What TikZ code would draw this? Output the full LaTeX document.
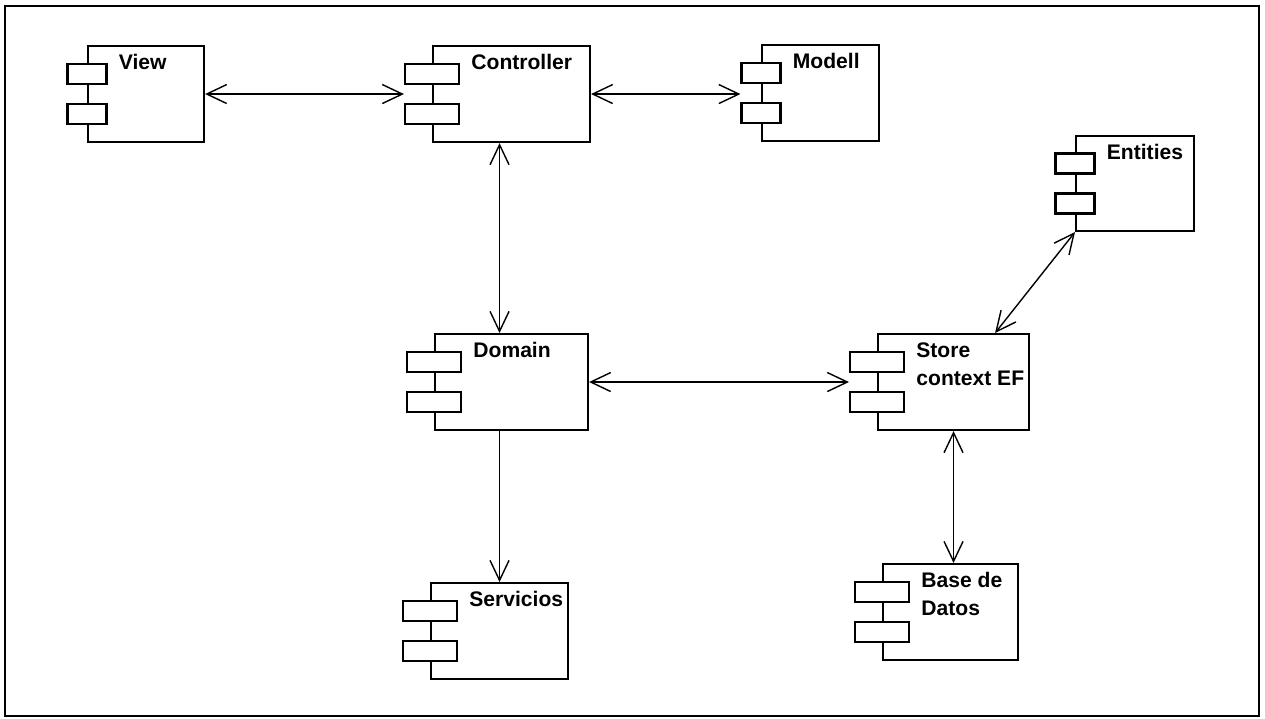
\documentclass[tikz,border=0pt]{standalone}
\usepackage{fontspec}
\setmainfont{Liberation Sans}
\usepackage{tikz}
\usetikzlibrary{arrows.meta, positioning}

\begin{document}
\begin{tikzpicture}[
  x=0.02cm, y=-0.02cm,
  >={Straight Barb[length=4mm,width=3.8mm]},
  comp/.style={draw, line width=1.2pt, anchor=north west, inner sep=0, minimum height=1.92cm},
  tab/.style={draw, fill=white, line width=1.2pt, inner sep=0, minimum height=0.4cm},
  lbl/.style={anchor=north west, inner sep=0, align=left, font=\fontsize{12}{16}\selectfont\bfseries},
  link/.style={line width=0.8pt}
]
\useasboundingbox (0,0) rectangle (1265,719);

% Frame
\draw[line width=1.4pt] (5,6) rectangle (1259,716);

% Components
\node[comp, minimum width=2.32cm] (view) at (87,45) {};
\node[comp, minimum width=3.14cm] (ctrl) at (432,45) {};
\node[comp, minimum width=2.34cm] (modell) at (761,44) {};
\node[comp, minimum width=2.36cm, minimum height=1.9cm] (ent) at (1075,135) {};
\node[comp, minimum width=3.06cm] (dom) at (434,333) {};
\node[comp, minimum width=3.02cm] (store) at (877,333) {};
\node[comp, minimum width=2.74cm] (serv) at (430,582) {};
\node[comp, minimum width=2.70cm] (base) at (882,563) {};

% Tabs
\node[tab, minimum width=0.78cm] (view1) at ([yshift=0.4cm]view.west) {};
\node[tab, minimum width=0.78cm] (view2) at ([yshift=-0.4cm]view.west) {};
\node[tab, minimum width=1.08cm] (ctrl1) at ([yshift=0.4cm]ctrl.west) {};
\node[tab, minimum width=1.08cm] (ctrl2) at ([yshift=-0.4cm]ctrl.west) {};
\node[tab, minimum width=0.78cm] (modell1) at ([yshift=0.4cm]modell.west) {};
\node[tab, minimum width=0.78cm] (modell2) at ([yshift=-0.4cm]modell.west) {};
\node[tab, minimum width=0.78cm] (ent1) at ([yshift=0.4cm]ent.west) {};
\node[tab, minimum width=0.78cm] (ent2) at ([yshift=-0.4cm]ent.west) {};
\node[tab, minimum width=1.08cm] (dom1) at ([yshift=0.4cm]dom.west) {};
\node[tab, minimum width=1.08cm] (dom2) at ([yshift=-0.4cm]dom.west) {};
\node[tab, minimum width=1.08cm] (store1) at ([yshift=0.4cm]store.west) {};
\node[tab, minimum width=1.08cm] (store2) at ([yshift=-0.4cm]store.west) {};
\node[tab, minimum width=1.08cm] (serv1) at ([yshift=0.4cm]serv.west) {};
\node[tab, minimum width=1.08cm] (serv2) at ([yshift=-0.4cm]serv.west) {};
\node[tab, minimum width=1.08cm] (base1) at ([yshift=0.4cm]base.west) {};
\node[tab, minimum width=1.08cm] (base2) at ([yshift=-0.4cm]base.west) {};

% Labels
\node[lbl, xshift=0.22cm, yshift=-0.18cm] (viewt) at (view1.east |- view.north) {View};
\node[lbl, xshift=0.22cm, yshift=-0.18cm] (ctrlt) at (ctrl1.east |- ctrl.north) {Controller};
\node[lbl, xshift=0.22cm, yshift=-0.18cm] (modellt) at (modell1.east |- modell.north) {Modell};
\node[lbl, xshift=0.22cm, yshift=-0.18cm] (entt) at (ent1.east |- ent.north) {Entities};
\node[lbl, xshift=0.22cm, yshift=-0.18cm] (domt) at (dom1.east |- dom.north) {Domain};
\node[lbl, xshift=0.22cm, yshift=-0.18cm] (storet) at (store1.east |- store.north) {Store\\context EF};
\node[lbl, xshift=0.22cm, yshift=-0.18cm] (servt) at (serv1.east |- serv.north) {Servicios};
\node[lbl, xshift=0.22cm, yshift=-0.18cm] (baset) at (base1.east |- base.north) {Base de\\Datos};

% Links
\draw[link, <->] (view.east) -- (view.east -| ctrl1.west);
\draw[link, <->] (ctrl.east) -- (ctrl.east -| modell1.west);
\draw[link, <->] (serv.north |- ctrl.south) -- (serv.north |- dom.north);
\draw[link, <->] (dom.east) -- (dom.east -| store1.west);
\draw[link, ->] (serv.north |- dom.south) -- (serv.north);
\draw[link, <->] ([xshift=-0.7cm]store.north east) -- (ent.south west);
\draw[link, <->] (store.south) -- (store.south |- base.north);
\end{tikzpicture}
\end{document}
